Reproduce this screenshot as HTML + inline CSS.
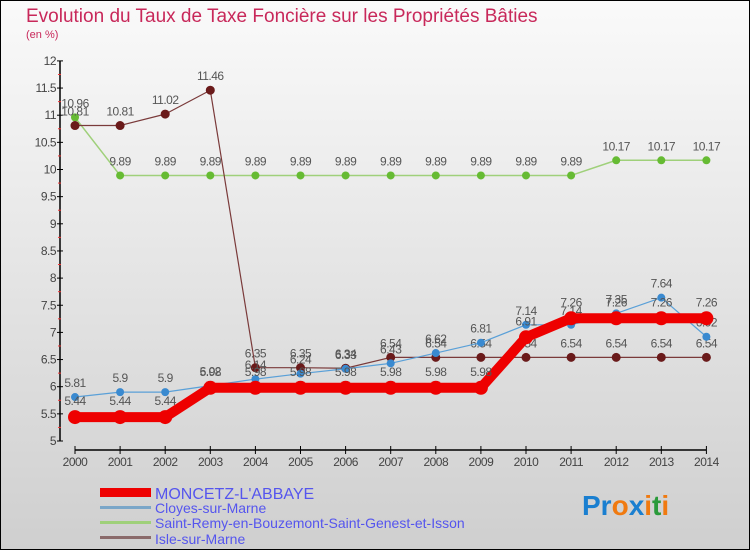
<!DOCTYPE html>
<html><head><meta charset="utf-8"><style>
body{margin:0;width:750px;height:550px;overflow:hidden;font-family:"Liberation Sans",sans-serif}
</style></head><body>
<svg id="chart" width="750" height="550" xmlns="http://www.w3.org/2000/svg">
<defs><linearGradient id="bg" x1="0" y1="0" x2="0" y2="1"><stop offset="0" stop-color="#fafafa"/><stop offset="1" stop-color="#cfcfcf"/></linearGradient></defs>
<rect x="0.5" y="0.5" width="749" height="549" fill="url(#bg)" stroke="#000"/>
<text x="26" y="22" font-size="19" fill="#c8285a">Evolution du Taux de Taxe Foncière sur les Propriétés Bâties</text>
<text x="26" y="38" font-size="11" fill="#c8285a">(en %)</text>
<g id="axes"></g><g id="series"></g>
<g>
<rect x="100" y="488" width="51" height="9" fill="#e00"/>
<text x="155" y="499" font-size="16" fill="#5555ee">MONCETZ-L'ABBAYE</text>
<rect x="100" y="506" width="51" height="3" fill="#7aa6c8"/>
<text x="155" y="513" font-size="14" fill="#5555ee">Cloyes-sur-Marne</text>
<rect x="100" y="521" width="51" height="3" fill="#9fd07a"/>
<text x="155" y="528" font-size="14" fill="#5555ee">Saint-Remy-en-Bouzemont-Saint-Genest-et-Isson</text>
<rect x="100" y="536" width="51" height="3" fill="#8a6a6a"/>
<text x="155" y="544" font-size="14" fill="#5555ee">Isle-sur-Marne</text>
</g>
<text x="582" y="515" font-size="28" font-weight="bold"><tspan fill="#1a7fd0">Pr</tspan><tspan fill="#f07a10">o</tspan><tspan fill="#1a7fd0">x</tspan><tspan fill="#f07a10">i</tspan><tspan fill="#2a9a3a">t</tspan><tspan fill="#f07a10">i</tspan></text>
</svg>
<script>
const years=[2000,2001,2002,2003,2004,2005,2006,2007,2008,2009,2010,2011,2012,2013,2014];
const moncetz=[5.44,5.44,5.44,5.98,5.98,5.98,5.98,5.98,5.98,5.98,6.91,7.26,7.26,7.26,7.26];
const cloyes=[5.81,5.9,5.9,6.02,6.14,6.24,6.33,6.43,6.62,6.81,7.14,7.14,7.35,7.64,6.92];
const saintRemy=[10.96,9.89,9.89,9.89,9.89,9.89,9.89,9.89,9.89,9.89,9.89,9.89,10.17,10.17,10.17];
const isle=[10.81,10.81,11.02,11.46,6.35,6.35,6.34,6.54,6.54,6.54,6.54,6.54,6.54,6.54,6.54];
const yTicks=[5,5.5,6,6.5,7,7.5,8,8.5,9,9.5,10,10.5,11,11.5,12];
const NS="http://www.w3.org/2000/svg";
const X=i=>75+i*45.1, Y=v=>441-(v-5)*54.3;
function mk(p,t,a){const e=document.createElementNS(NS,t);for(const k in a)e.setAttribute(k,a[k]);p.appendChild(e);return e;}
const ax=document.getElementById('axes');
let l=mk(ax,'line',{x1:60,y1:Y(12),x2:60,y2:Y(5),stroke:'#000','stroke-width':1.5});


l=mk(ax,'line',{x1:X(0),y1:450,x2:X(14),y2:450,stroke:'#000','stroke-width':1.5});


yTicks.forEach((v,i)=>{
 mk(ax,'line',{x1:57,y1:Y(v),x2:63,y2:Y(v),stroke:'#000'});
 if(i<yTicks.length-1) mk(ax,'line',{x1:58,y1:Y(v+0.25),x2:61,y2:Y(v+0.25),stroke:'#e33'});
 const t=mk(ax,'text',{x:56,y:Y(v)+4,'font-size':12,'text-anchor':'end',fill:'#444','letter-spacing':'-0.5'});
 t.textContent=String(v);
 
 
});
years.forEach((yr,i)=>{
 mk(ax,'line',{x1:X(i),y1:446,x2:X(i),y2:454,stroke:'#000'});
 const t=mk(ax,'text',{x:X(i),y:466,'font-size':12,'text-anchor':'middle',fill:'#444','letter-spacing':'-0.5'});
 t.textContent=String(yr);
 
 
});
const sg=document.getElementById('series');
function series(vals,name,lc,lw,dc,r,lblOff){
 const g=mk(sg,'g',{});
 
 
 mk(g,'polyline',{points:vals.map((v,i)=>X(i)+','+Y(v)).join(' '),fill:'none',stroke:lc,'stroke-width':lw,'stroke-linejoin':'round'});
 vals.forEach((v,i)=>{
  const c=mk(g,'circle',{cx:X(i),cy:Y(v),r:r,fill:dc});
  
  
  const t=mk(g,'text',{x:X(i),y:Y(v)+lblOff,'font-size':12,'text-anchor':'middle',fill:'#555','letter-spacing':'-0.5'});
  t.textContent=String(v);
  
  
 });
}
series(saintRemy,'saint-remy-series','#9fd07a',1.5,'#66bb33',4,-10);
series(isle,'isle-series','#7a3a3a',1.2,'#6a1a1a',4.5,-10);
series(cloyes,'cloyes-series','#5aa0d8',1.2,'#3a8ad0',4,-10);
series(moncetz,'moncetz-series','#ee0000',10,'#ee0000',7,-12);
</script>
</body></html>
